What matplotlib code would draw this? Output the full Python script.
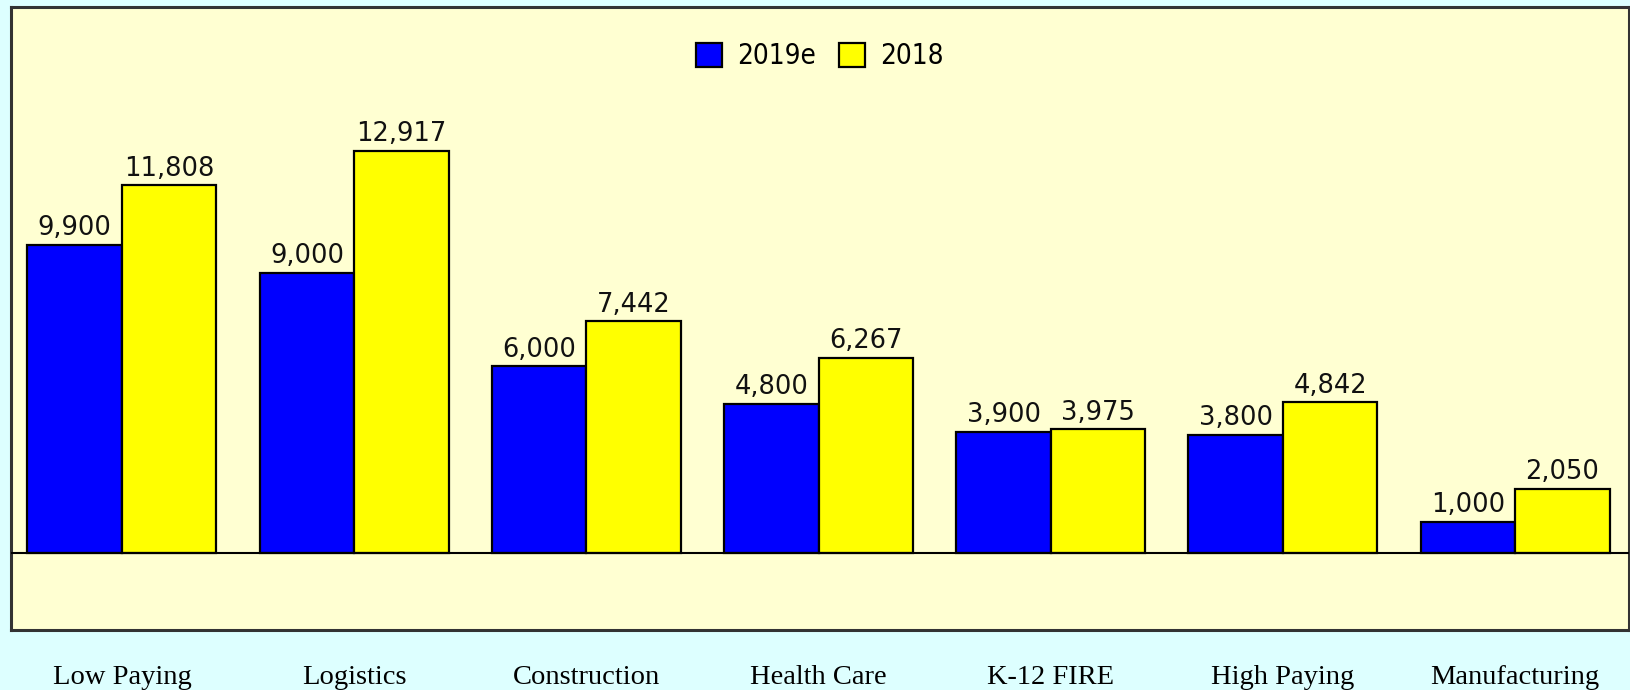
import numpy as np
import matplotlib
matplotlib.use('Agg')
import matplotlib.pyplot as plt
from matplotlib.patches import Patch

# 업종별 일자리 수 (2019 추정 vs 2018)
categories = ['Low Paying', 'Logistics', 'Construction', 'Health Care',
              'K-12 FIRE', 'High Paying', 'Manufacturing']
jobs_2019e = [9900, 9000, 6000, 4800, 3900, 3800, 1000]
jobs_2018 = [11808, 12917, 7442, 6267, 3975, 4842, 2050]
series_labels = ['2019e', '2018']

fig = plt.figure(figsize=(16.3, 6.9), dpi=100)
fig.patch.set_facecolor('#DDFFFF')
ax = fig.add_axes([0.00675, 0.0870, 0.9926, 0.9029])
ax.set_facecolor('#FFFFD2')

x_pos = np.arange(len(categories))
width = 0.407
bars_a = ax.bar(x_pos - width / 2, jobs_2019e, width, color='#0000FF',
                edgecolor='black', linewidth=1.6, zorder=3)
bars_b = ax.bar(x_pos + width / 2, jobs_2018, width, color='#FFFF00',
                edgecolor='black', linewidth=1.6, zorder=3)

# 막대 위 값 표시
for bars, vals in [(bars_a, jobs_2019e), (bars_b, jobs_2018)]:
    for b, v in zip(bars, vals):
        ax.annotate(f"{v:,}", (b.get_x() + b.get_width() / 2, v),
                    xytext=(0, 7), textcoords='offset points',
                    ha='center', va='baseline', fontsize=18.5,
                    family='DejaVu Sans', color='#111111')

ax.axhline(0, color='black', linewidth=1.5, zorder=4)
ax.set_xlim(-0.478, 6.49)
ax.set_ylim(-2475, 17545)

ax.set_yticks([])
ax.set_xticks(x_pos)
ax.set_xticklabels(categories, family=['Liberation Serif', 'DejaVu Serif'], fontsize=20.5)
ax.tick_params(axis='x', length=0, pad=25)

for s in ax.spines.values():
    s.set_color('#333333')
    s.set_linewidth(2.2)

handles = [Patch(facecolor='#0000FF', edgecolor='black', linewidth=1.6),
           Patch(facecolor='#FFFF00', edgecolor='black', linewidth=1.6)]
ax.legend(handles, series_labels, loc='center', bbox_to_anchor=(0.5, 0.9205),
          ncol=2, frameon=False, handlelength=0.95, handleheight=0.95,
          handletextpad=0.55, columnspacing=0.8,
          prop={'family': 'DejaVu Sans', 'stretch': 'condensed', 'size': 20})

plt.savefig('out.png', dpi=100, facecolor=fig.get_facecolor())
plt.close()
